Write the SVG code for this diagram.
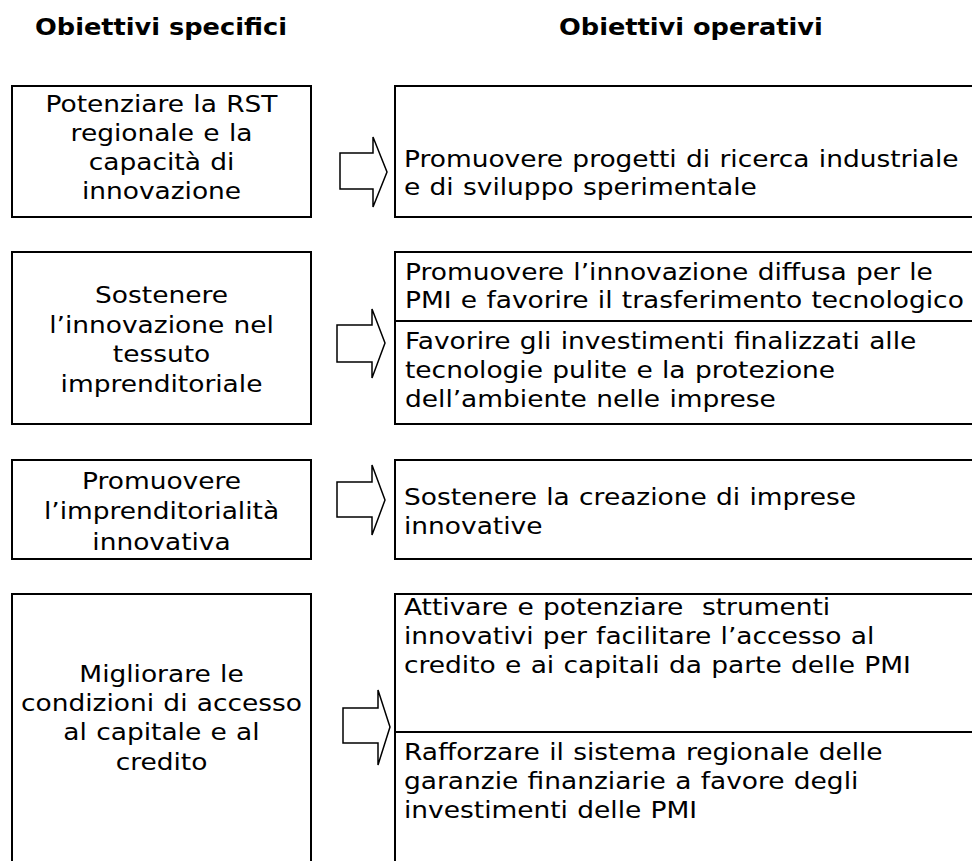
<svg xmlns="http://www.w3.org/2000/svg" width="972" height="861" viewBox="0 0 972 861">
<style>
.box{fill:none;stroke:#000;stroke-width:2}
.arr{fill:#fff;stroke:#000;stroke-width:1.5;stroke-linejoin:miter}
text{font-family:"DejaVu Sans","Liberation Sans",sans-serif;font-size:23px;word-spacing:0.8px;fill:#000}
.h{font-weight:bold;font-size:22.3px;word-spacing:0}
.c{text-anchor:middle}
</style>
<rect width="972" height="861" fill="#fff"/>
<g id="headers">
<g transform="translate(35,0) scale(1.15,1)"><text class="h" x="0" y="35">Obiettivi specifici</text></g>
<g transform="translate(559,0) scale(1.15,1)"><text class="h" x="0" y="35">Obiettivi operativi</text></g>
</g>
<g id="spec1">
<rect class="box" x="12" y="86" width="299" height="131"/>
<g transform="translate(161.5,0) scale(1.15,1)">
<text class="c" x="0" y="112">Potenziare la RST</text>
<text class="c" x="0" y="141">regionale e la</text>
<text class="c" x="0" y="170">capacità di</text>
<text class="c" x="0" y="199">innovazione</text>
</g>
</g>
<g id="oper1">
<rect class="box" x="395" y="86" width="600" height="131"/>
<g transform="translate(404,0) scale(1.15,1)">
<text x="0" y="167">Promuovere progetti di ricerca industriale</text>
<text x="0" y="195">e di sviluppo sperimentale</text>
</g>
</g>
<g id="spec2">
<rect class="box" x="12" y="252" width="299" height="172"/>
<g transform="translate(161.5,0) scale(1.15,1)">
<text class="c" x="0" y="303">Sostenere</text>
<text class="c" x="0" y="333">l’innovazione nel</text>
<text class="c" x="0" y="362">tessuto</text>
<text class="c" x="0" y="392">imprenditoriale</text>
</g>
</g>
<g id="oper2">
<rect class="box" x="395" y="252" width="600" height="172"/>
<line class="box" x1="395" y1="321" x2="972" y2="321"/>
<g transform="translate(405,0) scale(1.15,1)">
<text x="0" y="280">Promuovere l’innovazione diffusa per le</text>
<text x="0" y="308">PMI e favorire il trasferimento tecnologico</text>
<text x="0" y="349">Favorire gli investimenti finalizzati alle</text>
<text x="0" y="378">tecnologie pulite e la protezione</text>
<text x="0" y="407">dell’ambiente nelle imprese</text>
</g>
</g>
<g id="spec3">
<rect class="box" x="12" y="460" width="299" height="99"/>
<g transform="translate(161.5,0) scale(1.15,1)">
<text class="c" x="0" y="489">Promuovere</text>
<text class="c" x="0" y="519">l’imprenditorialità</text>
<text class="c" x="0" y="550">innovativa</text>
</g>
</g>
<g id="oper3">
<rect class="box" x="395" y="460" width="600" height="99"/>
<g transform="translate(404,0) scale(1.15,1)">
<text x="0" y="505">Sostenere la creazione di imprese</text>
<text x="0" y="534">innovative</text>
</g>
</g>
<g id="spec4">
<rect class="box" x="12" y="594" width="299" height="300"/>
<g transform="translate(161.5,0) scale(1.15,1)">
<text class="c" x="0" y="682">Migliorare le</text>
<text class="c" x="0" y="711">condizioni di accesso</text>
<text class="c" x="0" y="740">al capitale e al</text>
<text class="c" x="0" y="770">credito</text>
</g>
</g>
<g id="oper4">
<rect class="box" x="395" y="594" width="600" height="300"/>
<line class="box" x1="395" y1="732" x2="972" y2="732"/>
<g transform="translate(404,0) scale(1.15,1)">
<text x="0" y="615" xml:space="preserve">Attivare e potenziare  strumenti</text>
<text x="0" y="644">innovativi per facilitare l’accesso al</text>
<text x="0" y="673">credito e ai capitali da parte delle PMI</text>
<text x="0" y="760">Rafforzare il sistema regionale delle</text>
<text x="0" y="789">garanzie finanziarie a favore degli</text>
<text x="0" y="818">investimenti delle PMI</text>
</g>
</g>
<g id="connectors">
<polygon class="arr" points="340,153 373,153 373,137 387,172 373,207 373,189 340,189"/>
<polygon class="arr" points="337,325 372,325 372,309 385,343 372,378 372,362 337,362"/>
<polygon class="arr" points="337,482 372,482 372,465 385,500 372,535 372,517 337,517"/>
<polygon class="arr" points="343,708 378,708 378,690 390,727 378,765 378,743 343,743"/>
</g>
</svg>
